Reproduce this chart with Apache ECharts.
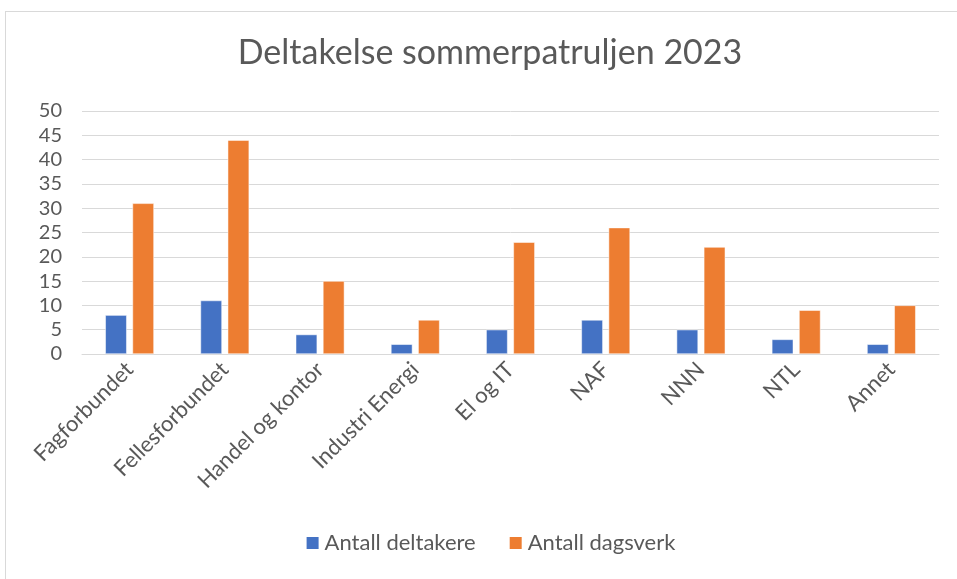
<!DOCTYPE html>
<html lang="no" style="height: 100%">
<head>
  <meta charset="utf-8">
</head>
<body style="height: 100%; margin: 0; background: #fff">
  <div id="container" style="position: absolute; left: 5px; top: 11px; width: 970px; height: 580px; border: 1px solid #d9d9d9; box-sizing: border-box"></div>

  <script src="https://cdn.jsdelivr.net/npm/echarts@6/dist/echarts.min.js"></script>

  <script type="text/javascript">
    var categories = ['Fagforbundet', 'Fellesforbundet', 'Handel og kontor', 'Industri Energi', 'El og IT', 'NAF', 'NNN', 'NTL', 'Annet'];
    var deltakere = [8, 11, 4, 2, 5, 7, 5, 3, 2];
    var dagsverk = [31, 44, 15, 7, 23, 26, 22, 9, 10];

    var dom = document.getElementById('container');
    var myChart = echarts.init(dom, null, { renderer: 'canvas' });
    var font = 'Lato';

    var option = {
      animation: false,
      textStyle: { fontFamily: font },
      title: {
        text: 'Deltakelse sommerpatruljen 2023',
        left: 'center',
        top: 19,
        textStyle: { fontFamily: font, fontSize: 34, fontWeight: 'normal', color: '#595959' }
      },
      legend: {
        bottom: 31,
        left: 'center',
        itemWidth: 14,
        itemHeight: 14,
        itemGap: 32,
        icon: 'rect',
        textStyle: { fontFamily: font, fontSize: 22, color: '#595959' },
        data: ['Antall deltakere', 'Antall dagsverk']
      },
      grid: {
        left: 76,
        right: 35,
        top: 99,
        height: 243,
        containLabel: false
      },
      xAxis: {
        type: 'category',
        data: categories,
        axisLine: { lineStyle: { color: '#d9d9d9', width: 1 } },
        axisTick: { show: false },
        axisLabel: {
          rotate: 45,
          interval: 0,
          fontFamily: font,
          fontSize: 22,
          color: '#595959',
          margin: 12
        }
      },
      yAxis: {
        type: 'value',
        min: 0,
        max: 50,
        interval: 5,
        axisLine: { show: false },
        axisTick: { show: false },
        splitLine: { lineStyle: { color: '#d9d9d9', width: 1 } },
        axisLabel: { fontFamily: font, fontSize: 20, color: '#595959', margin: 20 }
      },
      series: [
        {
          name: 'Antall deltakere',
          type: 'bar',
          data: deltakere,
          barWidth: '22.5%',
          barGap: '27%',
          itemStyle: { color: '#4472c4', borderColor: '#ffffff', borderWidth: 0.5 }
        },
        {
          name: 'Antall dagsverk',
          type: 'bar',
          data: dagsverk,
          barWidth: '22.5%',
          itemStyle: { color: '#ed7d31', borderColor: '#ffffff', borderWidth: 0.5 }
        }
      ]
    };

    myChart.setOption(option);
    window.addEventListener('resize', myChart.resize);
  </script>
</body>
</html>
